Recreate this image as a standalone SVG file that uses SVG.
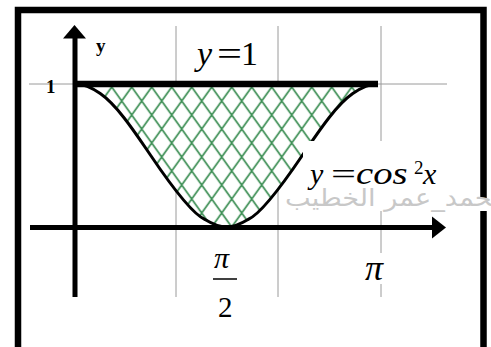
<svg xmlns="http://www.w3.org/2000/svg" width="491" height="347" viewBox="0 0 491 347">
  <defs>
    <pattern id="hatch" patternUnits="userSpaceOnUse" width="20" height="28" x="1.7" y="87">
      <rect width="20" height="28" fill="#ffffff"/>
      <path d="M0,14 L10,0 L20,14 L10,28 Z" stroke="#3d8f55" stroke-width="1.7" fill="none"/>
    </pattern>
    <style>
      .grid { stroke: #9a9a9a; stroke-width: 1; fill: none; }
      .axis { stroke: #000; stroke-width: 5; fill: none; }
      .serif { font-family: "Liberation Serif", "Times New Roman", serif; fill: #000; }
      .it { font-style: italic; }
    </style>
  </defs>
  <rect width="491" height="347" fill="#ffffff"/>
  <g id="frame">
    <rect x="18" y="10" width="465.5" height="400" fill="none" stroke="#000" stroke-width="6.5"/>
  </g>
  <g id="grid">
    <line class="grid" x1="176" y1="26" x2="176" y2="297"/>
    <line class="grid" x1="278" y1="26" x2="278" y2="297"/>
    <line class="grid" x1="381" y1="26" x2="381" y2="297"/>
    <line class="grid" x1="29" y1="84" x2="447" y2="84"/>
  </g>
  <g id="region">
    <path d="M75,84 L87.63,86.44 L100.25,93.58 L112.88,104.94 L125.5,119.75 L138.13,137 L150.75,155.5 L163.38,174 L176,191.25 L188.63,206.06 L201.25,217.42 L213.88,224.56 L226.5,227 L239.13,224.56 L251.75,217.42 L264.38,206.06 L277,191.25 L289.63,174 L302.25,155.5 L314.88,137 L327.5,119.75 L340.13,104.94 L352.75,93.58 L365.38,86.44 L378,84 Z" fill="url(#hatch)" stroke="none"/>
  </g>
  <g id="connectors">
    <path id="curve" d="M75,84 C83,84 91,87 100.25,93.58 C118,106 136,134 150.75,155.5 C170,184 192,214 205,219.5 C214,225 220,227 226.5,227 C233,227 239,225 248,219.5 C261,214 283,184 302.25,155.5 C317,134 335,106 352.75,93.58 C362,87 370,84 378,84" fill="none" stroke="#000" stroke-width="3"/>
    <line x1="75" y1="84" x2="378" y2="84" stroke="#000" stroke-width="6.5"/>
    <line class="axis" x1="75" y1="36" x2="75" y2="297"/>
    <polygon points="74.5,25 63,38.5 86,38.5" fill="#000"/>
    <line class="axis" x1="30" y1="227.5" x2="434" y2="227.5"/>
    <polygon points="446,227.5 432,216.5 432,238.5" fill="#000"/>
  </g>
  <g id="label-y-axis">
    <text class="serif" x="96" y="52" font-size="19" font-weight="bold">y</text>
  </g>
  <g id="label-one">
    <text class="serif" x="46" y="93" font-size="19" font-weight="bold">1</text>
  </g>
  <g id="label-y1">
    <text class="serif it" x="197" y="65" font-size="34">y</text>
    <text class="serif" x="217" y="65" font-size="34" textLength="25" lengthAdjust="spacingAndGlyphs">=</text>
    <text class="serif" x="241" y="65" font-size="34">1</text>
  </g>
  <g id="label-cos-bg">
    <rect x="303" y="141" width="167" height="58" fill="#ffffff"/>
    <rect x="284" y="198" width="207" height="13" fill="#ffffff"/>
  </g>
  <g id="watermark">
    <text x="285" y="206" font-family="DejaVu Sans, Noto Sans, sans-serif" font-size="24" fill="#c8c8c8" textLength="222" lengthAdjust="spacingAndGlyphs">محمد_عمر الخطيب</text>
  </g>
  <g id="label-cos">
    <text class="serif it" x="310" y="184" font-size="30">y</text>
    <text class="serif" x="331" y="184" font-size="30" textLength="25" lengthAdjust="spacingAndGlyphs">=</text>
    <text class="serif it" transform="translate(356,184) scale(1.25,1)" x="0" y="0" font-size="31">cos</text>
    <text class="serif" x="414" y="174" font-size="19">2</text>
    <text class="serif it" x="423" y="184" font-size="30">x</text>
  </g>
  <g id="label-pi-half">
    <text class="serif it" x="214" y="268" font-size="30">π</text>
    <line x1="213" y1="279" x2="237" y2="279" stroke="#000" stroke-width="1.5"/>
    <text class="serif" x="218" y="317" font-size="29">2</text>
  </g>
  <g id="label-pi">
    <rect x="367" y="253" width="24" height="31" fill="#ffffff"/>
    <text class="serif it" x="365" y="280" font-size="36">π</text>
  </g>
</svg>
